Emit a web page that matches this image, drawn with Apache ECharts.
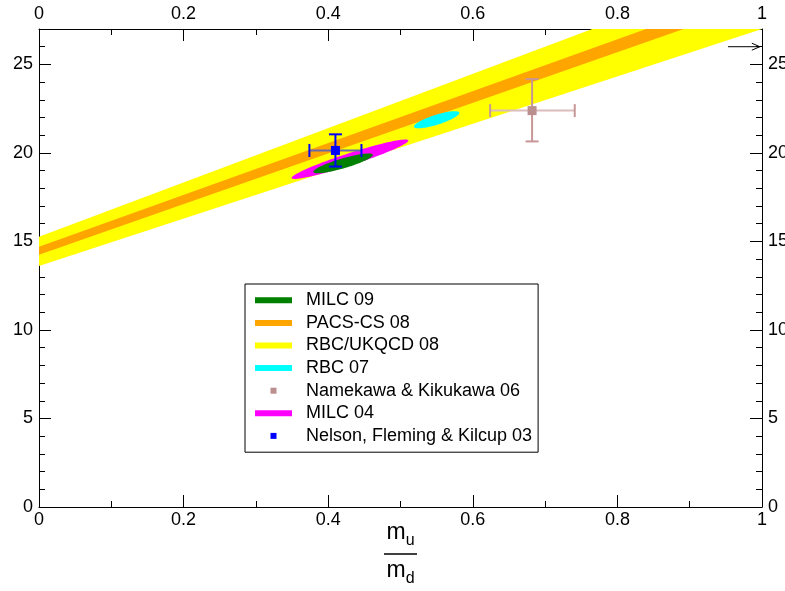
<!DOCTYPE html>
<html>
<head>
<meta charset="utf-8">
<script src="https://cdn.jsdelivr.net/npm/echarts@6/dist/echarts.min.js"></script>
<style>
html, body { margin: 0; background: #fff; }
#chart { width: 785px; height: 591px; }
</style>
</head>
<body>
<div id="chart"></div>
<script>
// band edges, read at x = 0 and x = 1
var bandX = [0, 1];
var yellowLow = [13.62, 27.0];
var yellowHigh = [15.27, 30.6];
var orangeLow = [14.25, 28.55];
var orangeHigh = [14.70, 29.35];

// ellipses: end points of the long axis (x1, y1, x2, y2) and half width in y units
var milc09 = [0.3794, 18.92, 0.4616, 19.90, 0.28];
var milc04 = [0.3495, 18.58, 0.5108, 20.71, 0.34];
var rbc07 = [0.5187, 21.47, 0.5813, 22.28, 0.28];

// points with errors: x, y, x low, x high, y low, y high
var namekawa = [0.682, 22.39, 0.624, 0.741, 20.65, 24.17];
var nelson = [0.41, 20.14, 0.374, 0.446, 19.23, 21.05];

// little arrow at the top right
var arrowFrom = [0.953, 26];
var arrowTo = [0.997, 26];

// axes
var xRange = [0, 1];
var xStep = 0.2;
var yRange = [0, 27];
var yStep = 5;
var yMinorStep = 1;

var legendNames = ['MILC 09', 'PACS-CS 08', 'RBC/UKQCD 08', 'RBC 07',
    'Namekawa & Kikukawa 06', 'MILC 04', 'Nelson, Fleming & Kilcup 03'];

var FONT = "'Liberation Sans', Arial, sans-serif";

function bandSeries(name, color, low, high){
    return {
        name: name,
        type: 'custom',
        clip: true,
        silent: true,
        itemStyle: {color: color},
        data: bandX.map(function(x, i){ return [x, low[i], high[i]]; }),
        renderItem: function(params, api){
            if(params.dataIndex !== 0){
                return null;
            }
            var pts = [];
            for(var i = 0; i < bandX.length; i++){
                pts.push(api.coord([bandX[i], low[i]]));
            }
            for(var j = bandX.length - 1; j >= 0; j--){
                pts.push(api.coord([bandX[j], high[j]]));
            }
            return {type: 'polygon', shape: {points: pts}, style: {fill: color}};
        }
    };
}

function ellipseSeries(name, color, e){
    return {
        name: name,
        type: 'custom',
        clip: true,
        silent: true,
        itemStyle: {color: color},
        data: [e],
        renderItem: function(params, api){
            var p1 = api.coord([api.value(0), api.value(1)]);
            var p2 = api.coord([api.value(2), api.value(3)]);
            var b = api.size([0, api.value(4)])[1];
            var cx = (p1[0] + p2[0]) / 2, cy = (p1[1] + p2[1]) / 2;
            var dx = (p2[0] - p1[0]) / 2, dy = (p2[1] - p1[1]) / 2;
            var a = Math.sqrt(dx * dx + dy * dy);
            var ux = dx / a, uy = dy / a;
            var pts = [];
            for(var k = 0; k < 90; k++){
                var t = k / 90 * 2 * Math.PI;
                var c = Math.cos(t) * a, s = Math.sin(t) * b;
                pts.push([cx + c * ux - s * uy, cy + c * uy + s * ux]);
            }
            return {type: 'polygon', shape: {points: pts}, style: {fill: color}};
        }
    };
}

function seg(p, q, color){
    return {type: 'line', shape: {x1: p[0], y1: p[1], x2: q[0], y2: q[1]},
        style: {stroke: color, lineWidth: 2}};
}

function errorSeries(name, color, hColor, vColor, d){
    return {
        name: name,
        type: 'custom',
        silent: true,
        z: 5,
        itemStyle: {color: color},
        data: [d],
        renderItem: function(params, api){
            var c = api.coord([api.value(0), api.value(1)]);
            var l = api.coord([api.value(2), api.value(1)]);
            var r = api.coord([api.value(3), api.value(1)]);
            var lo = api.coord([api.value(0), api.value(4)]);
            var hi = api.coord([api.value(0), api.value(5)]);
            var cap = 6.5, sq = 4.5;
            return {
                type: 'group',
                children: [
                    seg(l, r, hColor),
                    seg([l[0], l[1] - cap], [l[0], l[1] + cap], vColor),
                    seg([r[0], r[1] - cap], [r[0], r[1] + cap], vColor),
                    seg(lo, hi, vColor),
                    seg([lo[0] - cap, lo[1]], [lo[0] + cap, lo[1]], vColor),
                    seg([hi[0] - cap, hi[1]], [hi[0] + cap, hi[1]], vColor),
                    {type: 'rect', shape: {x: c[0] - sq, y: c[1] - sq, width: 2 * sq, height: 2 * sq},
                        style: {fill: color}}
                ]
            };
        }
    };
}

var arrowSeries = {
    type: 'custom',
    silent: true,
    clip: false,
    data: [[arrowFrom[0], arrowFrom[1], arrowTo[0], arrowTo[1]]],
    renderItem: function(params, api){
        var p = api.coord([api.value(0), api.value(1)]);
        var q = api.coord([api.value(2), api.value(3)]);
        return {
            type: 'group',
            children: [
                {type: 'line', shape: {x1: p[0], y1: p[1], x2: q[0], y2: q[1]},
                    style: {stroke: '#000', lineWidth: 1}},
                {type: 'polyline', shape: {points: [[q[0] - 8, q[1] - 3.5], q, [q[0] - 8, q[1] + 3.5]]},
                    style: {stroke: '#000', lineWidth: 1, fill: null}}
            ]
        };
    }
};

function xAxisOf(position, showName){
    var ax = {
        type: 'value',
        position: position,
        min: xRange[0],
        max: xRange[1],
        interval: xStep,
        axisLine: {show: true, onZero: false, lineStyle: {color: '#000', width: 1}},
        axisTick: {show: true, inside: true, length: 12, lineStyle: {color: '#000'}},
        minorTick: {show: true, splitNumber: 2, length: 6, lineStyle: {color: '#000'}},
        splitLine: {show: false},
        minorSplitLine: {show: false},
        axisLabel: {color: '#000', fontSize: 18, fontFamily: FONT, margin: position === 'top' ? 6 : 4}
    };
    if(showName){
        ax.name = '{m|m}{s|u}\n{bar|}\n{m|m}{s|d}';
        ax.nameLocation = 'middle';
        ax.nameGap = 14;
        ax.nameMoveOverlap = false;
        ax.nameTextStyle = {
            color: '#000',
            align: 'center',
            rich: {
                m: {fontSize: 23, fontFamily: FONT, color: '#000', lineHeight: 28, verticalAlign: 'top'},
                s: {fontSize: 16, fontFamily: FONT, color: '#000', lineHeight: 13, verticalAlign: 'bottom'},
                bar: {borderColor: '#000', borderWidth: 1, width: 33, height: 0, lineHeight: 10}
            }
        };
    }
    return ax;
}

function yAxisOf(position, minor){
    return {
        type: 'value',
        position: position,
        min: yRange[0],
        max: yRange[1],
        interval: minor ? yMinorStep : yStep,
        axisLine: {show: !minor, onZero: false, lineStyle: {color: '#000', width: 1}},
        axisTick: {show: true, inside: true, length: minor ? 6 : 12, lineStyle: {color: '#000'}},
        splitLine: {show: false},
        axisLabel: {show: !minor, showMaxLabel: false, color: '#000', fontSize: 18, fontFamily: FONT, margin: 6}
    };
}

var option = {
    animation: false,
    backgroundColor: '#fff',
    grid: {left: 39, right: 23, top: 29, bottom: 84, containLabel: false, outerBoundsMode: 'none'},
    xAxis: [xAxisOf('bottom', true), xAxisOf('top', false)],
    yAxis: [yAxisOf('left', false), yAxisOf('left', true), yAxisOf('right', false), yAxisOf('right', true)],
    legend: {
        orient: 'vertical',
        left: 245,
        top: 284,
        padding: [5, 6, 5, 10],
        backgroundColor: '#fff',
        borderColor: '#000',
        borderWidth: 1,
        borderRadius: 0,
        itemWidth: 37,
        itemHeight: 6,
        itemGap: 0,
        selectedMode: false,
        textStyle: {color: '#000', fontSize: 18, fontFamily: FONT, lineHeight: 22.6, padding: [0, 0, 0, 9]},
        data: legendNames.map(function(n){
            var sq = (n.indexOf('Namekawa') === 0 || n.indexOf('Nelson') === 0);
            return {name: n, icon: sq ? 'path://M0,0h10v10h-10z' : 'rect'};
        })
    },
    series: [
        bandSeries('RBC/UKQCD 08', '#ffff00', yellowLow, yellowHigh),
        bandSeries('PACS-CS 08', '#ffa500', orangeLow, orangeHigh),
        ellipseSeries('MILC 04', '#ff00ff', milc04),
        ellipseSeries('MILC 09', '#008000', milc09),
        ellipseSeries('RBC 07', '#00ffff', rbc07),
        errorSeries('Namekawa & Kikukawa 06', '#bc8f8f', '#dcbcbc', '#c89696', namekawa),
        errorSeries('Nelson, Fleming & Kilcup 03', '#0000ff', '#6a6aa8', '#0000ff', nelson),
        arrowSeries
    ]
};

var chart = echarts.init(document.getElementById('chart'), null, {renderer: 'canvas'});
chart.setOption(option);
</script>
</body>
</html>
